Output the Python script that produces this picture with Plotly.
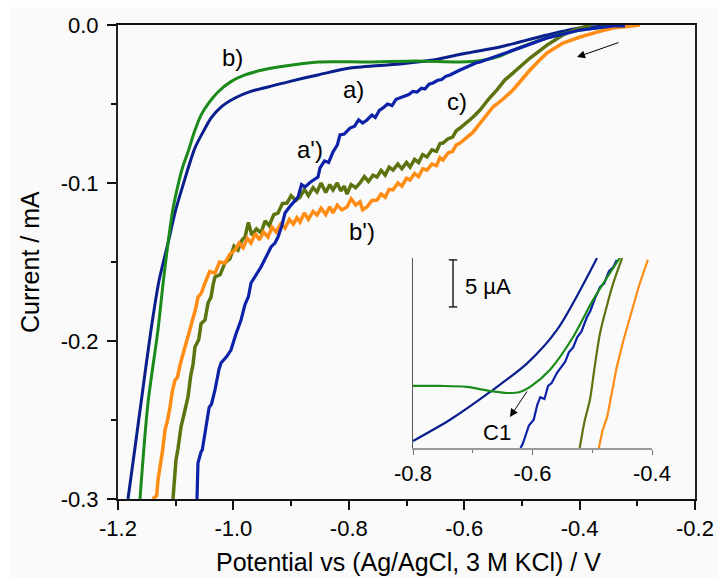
import plotly.graph_objects as go

# ---------------- data (main plot: potential V, current mA) ----------------
a_V = [-1.1827, -1.1700, -1.1601, -1.1428, -1.1290, -1.1133, -1.1000, -1.0873, -1.0666,
       -1.0500, -1.0388, -1.0200, -0.9972, -0.9700, -0.9400, -0.9000, -0.8534, -0.7979,
       -0.7113, -0.6541, -0.5951, -0.5380, -0.4565, -0.3993, -0.3421]
a_I = [-0.300, -0.2660, -0.2392, -0.193, -0.1620, -0.138, -0.1170, -0.1013, -0.0778,
       -0.0660, -0.0589, -0.0515, -0.0462, -0.0420, -0.0392, -0.0355, -0.0316, -0.0272,
       -0.0247, -0.0222, -0.0177, -0.0139, -0.0063, -0.0019, -0.0006]

b_V = [-1.1619, -1.1480, -1.1307, -1.1220, -1.1133, -1.1050, -1.0960, -1.0880, -1.0787,
       -1.0680, -1.0561, -1.0420, -1.0267, -1.0050, -0.9800, -0.9500, -0.9227, -0.8534,
       -0.7684, -0.6818, -0.6073, -0.5700, -0.5380, -0.5154, -0.4565, -0.3993, -0.3421,
       -0.3248]
b_I = [-0.300, -0.2392, -0.193, -0.1640, -0.138, -0.1170, -0.1013, -0.0900, -0.0804,
       -0.0680, -0.057, -0.0490, -0.0424, -0.0360, -0.0316, -0.0285, -0.0266, -0.0234,
       -0.0234, -0.0228, -0.0234, -0.0225, -0.0196, -0.0160, -0.0082, -0.0032, -0.0006,
       0.0]

a2_V = [-1.0631, -1.0625, -1.0614, -1.0560, -1.0540, -1.0492, -1.0420, -1.0380, -1.0319,
        -1.0250, -1.0215, -1.0120, -1.0042, -0.9960, -0.9868, -0.9800, -0.9740, -0.9695,
        -0.9600, -0.9522, -0.9450, -0.9348, -0.9280, -0.9227, -0.9160, -0.9106, -0.9000,
        -0.8880, -0.8820, -0.8759, -0.8650, -0.8534, -0.8499, -0.8420, -0.8350, -0.8274,
        -0.8200, -0.8153, -0.8080, -0.7979, -0.7900, -0.7830, -0.7760, -0.7685, -0.7600,
        -0.7540, -0.7470, -0.7407, -0.7330, -0.7250, -0.7180, -0.7113, -0.7040, -0.6960,
        -0.6890, -0.6818, -0.6740, -0.6680, -0.6610, -0.6541, -0.6460, -0.6390, -0.6320,
        -0.6246, -0.6100, -0.5950, -0.5800, -0.5726, -0.5550, -0.5380, -0.5000, -0.4565,
        -0.3993, -0.3421, -0.3213]
a2_I = [-0.300, -0.290, -0.2772, -0.2700, -0.2690, -0.2582, -0.2420, -0.2400, -0.2310,
        -0.2180, -0.2139, -0.2100, -0.2057, -0.1960, -0.1867, -0.1770, -0.1720, -0.1633,
        -0.1580, -0.1532, -0.1480, -0.1405, -0.1380, -0.1342, -0.1270, -0.1190, -0.1140,
        -0.1089, -0.1010, -0.1025, -0.0990, -0.0962, -0.0905, -0.0860, -0.0870, -0.0804,
        -0.0760, -0.0696, -0.0690, -0.0652, -0.0640, -0.0600, -0.0620, -0.0601, -0.0570,
        -0.0585, -0.0540, -0.0525, -0.0500, -0.0510, -0.0470, -0.0462, -0.0450, -0.0440,
        -0.0420, -0.0424, -0.0400, -0.0405, -0.0375, -0.0367, -0.0350, -0.0345, -0.0325,
        -0.0316, -0.0290, -0.0265, -0.0240, -0.0234, -0.0210, -0.0190, -0.0140, -0.0082,
        -0.0032, -0.0006, -0.0006]

b2_V = [-1.1400, -1.1330, -1.1307, -1.1255, -1.1230, -1.1185, -1.1140, -1.1099, -1.1060,
        -1.1012, -1.0970, -1.0925, -1.0880, -1.0839, -1.0770, -1.0700, -1.0650, -1.0614,
        -1.0560, -1.0492, -1.0410, -1.0319, -1.0240, -1.0146, -1.0060, -0.9972, -0.9900,
        -0.9830, -0.9760, -0.9695, -0.9620, -0.9550, -0.9480, -0.9400, -0.9330, -0.9260,
        -0.9180, -0.9106, -0.9030, -0.8960, -0.8900, -0.8846, -0.8770, -0.8700, -0.8620,
        -0.8551, -0.8480, -0.8400, -0.8330, -0.8274, -0.8200, -0.8120, -0.8031, -0.7960,
        -0.7880, -0.7806, -0.7760, -0.7685, -0.7600, -0.7511, -0.7440, -0.7370, -0.7300,
        -0.7234, -0.7150, -0.7080, -0.7000, -0.6939, -0.6860, -0.6790, -0.6720, -0.6645,
        -0.6560, -0.6480, -0.6420, -0.6367, -0.6280, -0.6200, -0.6140, -0.6073, -0.5980,
        -0.5900, -0.5850, -0.5778, -0.5650, -0.5501, -0.5330, -0.5154, -0.5000, -0.4860,
        -0.4700, -0.4565, -0.4288, -0.3993, -0.3700, -0.3421, -0.2953]
b2_I = [-0.300, -0.298, -0.288, -0.2772, -0.2700, -0.2563, -0.2500, -0.2418, -0.2320,
        -0.2247, -0.2230, -0.2152, -0.2100, -0.2038, -0.1950, -0.1867, -0.1790, -0.1722,
        -0.1700, -0.1633, -0.1560, -0.1570, -0.1500, -0.1506, -0.1450, -0.1424, -0.1380,
        -0.1410, -0.1350, -0.1380, -0.1320, -0.1360, -0.1310, -0.1342, -0.1280, -0.1310,
        -0.1260, -0.1285, -0.1230, -0.1260, -0.1220, -0.1247, -0.1190, -0.1230, -0.1180,
        -0.1203, -0.1160, -0.1200, -0.1150, -0.1190, -0.1140, -0.1170, -0.1152, -0.1100,
        -0.1140, -0.1120, -0.1170, -0.1152, -0.1110, -0.1108, -0.1070, -0.1090, -0.1040,
        -0.1044, -0.1000, -0.1020, -0.0970, -0.0981, -0.0940, -0.0960, -0.0910, -0.0918,
        -0.0880, -0.0890, -0.0840, -0.0854, -0.0810, -0.0800, -0.0760, -0.0747, -0.0720,
        -0.0690, -0.0680, -0.0646, -0.0590, -0.0519, -0.0470, -0.0411, -0.0345, -0.0285,
        -0.0225, -0.0177, -0.0114, -0.0076, -0.0045, -0.0019, 0.0]

c_V = [-1.1047, -1.1020, -1.0995, -1.0960, -1.0908, -1.0860, -1.0787, -1.0740, -1.0700,
       -1.0666, -1.0600, -1.0560, -1.0492, -1.0440, -1.0388, -1.0350, -1.0319, -1.0230,
       -1.0146, -1.0060, -0.9990, -0.9920, -0.9850, -0.9799, -0.9740, -0.9680, -0.9600,
       -0.9522, -0.9450, -0.9380, -0.9300, -0.9227, -0.9150, -0.9071, -0.9000, -0.8920,
       -0.8846, -0.8770, -0.8700, -0.8620, -0.8551, -0.8480, -0.8400, -0.8330, -0.8274,
       -0.8200, -0.8140, -0.8080, -0.8031, -0.7960, -0.7880, -0.7806, -0.7730, -0.7660,
       -0.7580, -0.7511, -0.7440, -0.7370, -0.7300, -0.7234, -0.7150, -0.7080, -0.7000,
       -0.6939, -0.6860, -0.6790, -0.6720, -0.6645, -0.6560, -0.6480, -0.6420, -0.6367,
       -0.6280, -0.6200, -0.6140, -0.6073, -0.5980, -0.5900, -0.5810, -0.5726, -0.5580,
       -0.5432, -0.5300, -0.5154, -0.5000, -0.4860, -0.4700, -0.4565, -0.4288, -0.4080,
       -0.3872, -0.3800]
c_I = [-0.300, -0.288, -0.2753, -0.2680, -0.2544, -0.2470, -0.2354, -0.2220, -0.2150,
       -0.2038, -0.1990, -0.1890, -0.1867, -0.1760, -0.1722, -0.1640, -0.1595, -0.1580,
       -0.1506, -0.1480, -0.1400, -0.1424, -0.1360, -0.1342, -0.1250, -0.1330, -0.1290,
       -0.1316, -0.1240, -0.1270, -0.1200, -0.1190, -0.1130, -0.1127, -0.1080, -0.1110,
       -0.1089, -0.1040, -0.1080, -0.1030, -0.1057, -0.1000, -0.1060, -0.1010, -0.1044,
       -0.1000, -0.1050, -0.1020, -0.1070, -0.1010, -0.1030, -0.1000, -0.0960, -0.0990,
       -0.0950, -0.0962, -0.0920, -0.0950, -0.0900, -0.0918, -0.0880, -0.0910, -0.0870,
       -0.0899, -0.0850, -0.0870, -0.0820, -0.0835, -0.0790, -0.0800, -0.0750, -0.0747,
       -0.0720, -0.0710, -0.0670, -0.0652, -0.0620, -0.0600, -0.0570, -0.0538, -0.0470,
       -0.0411, -0.0350, -0.0304, -0.0250, -0.0209, -0.0165, -0.0127, -0.0063, -0.0030,
       -0.0006, 0.0]

# ---------------- inset data (potential V, current in µA, offset) ----------------
ins_a_V = [-0.800, -0.738, -0.671, -0.609, -0.559, -0.492]
ins_a_I = [0.74, 3.0, 5.96, 9.0, 12.55, 20.2]
ins_b_V = [-0.800, -0.755, -0.710, -0.671, -0.643, -0.621, -0.604, -0.571, -0.532, -0.499, -0.454]
ins_b_I = [6.6, 6.6, 6.5, 6.06, 5.85, 5.96, 6.5, 8.3, 11.8, 15.7, 20.2]
ins_a2_V = [-0.620, -0.616, -0.606, -0.598, -0.592, -0.587, -0.580, -0.574, -0.568, -0.559,
            -0.552, -0.545, -0.539, -0.532, -0.525, -0.518, -0.509, -0.503, -0.496, -0.487,
            -0.480, -0.472, -0.465, -0.459]
ins_a2_I = [0.0, 0.5, 2.4, 3.0, 4.6, 5.4, 5.2, 6.6, 6.9, 8.0, 8.6, 9.2, 10.2, 10.7, 11.8, 12.4,
            13.9, 14.6, 15.8, 17.1, 17.5, 18.8, 19.2, 20.0]
ins_c_V = [-0.521, -0.513, -0.504, -0.496, -0.487, -0.476, -0.465, -0.450]
ins_c_I = [0.0, 2.8, 5.1, 8.6, 12.2, 15.0, 17.5, 20.2]
ins_b2_V = [-0.489, -0.483, -0.475, -0.467, -0.459, -0.448, -0.437, -0.422, -0.407]
ins_b2_I = [0.0, 1.8, 3.3, 5.9, 8.6, 11.4, 13.9, 17.2, 20.0]

x_tick_vals = [-1.2, -1.0, -0.8, -0.6, -0.4, -0.2]
x_tick_text = ["-1.2", "-1.0", "-0.8", "-0.6", "-0.4", "-0.2"]
y_tick_vals = [0.0, -0.1, -0.2, -0.3]
y_tick_text = ["0.0", "-0.1", "-0.2", "-0.3"]
ins_x_tick_vals = [-0.8, -0.6, -0.4]
ins_x_tick_text = ["-0.8", "-0.6", "-0.4"]

NAVY = "#0a1e8c"
BLUE = "#0d22a8"
GREEN = "#1a8a1a"
OLIVE = "#5b7410"
ORANGE = "#ff8c14"
FONT = "Arial, Liberation Sans, sans-serif"

fig = go.Figure()

main_traces = [
    (a_V, a_I, NAVY, 3.0, "spline"),
    (b_V, b_I, GREEN, 3.0, "spline"),
    (c_V, c_I, OLIVE, 3.5, "linear"),
    (b2_V, b2_I, ORANGE, 3.5, "linear"),
    (a2_V, a2_I, BLUE, 3.2, "linear"),
]
for xv, yv, col, w, shp in main_traces:
    fig.add_trace(go.Scatter(x=xv, y=yv, mode="lines",
                             line=dict(color=col, width=w, shape=shp, smoothing=0.8),
                             showlegend=False, xaxis="x", yaxis="y"))

inset_traces = [
    (ins_a_V, ins_a_I, NAVY, "spline"),
    (ins_c_V, ins_c_I, OLIVE, "spline"),
    (ins_b2_V, ins_b2_I, ORANGE, "linear"),
    (ins_a2_V, ins_a2_I, BLUE, "linear"),
    (ins_b_V, ins_b_I, GREEN, "spline"),
]
for xv, yv, col, shp in inset_traces:
    fig.add_trace(go.Scatter(x=xv, y=yv, mode="lines",
                             line=dict(color=col, width=2.2, shape=shp, smoothing=0.8),
                             showlegend=False, xaxis="x2", yaxis="y2"))

W, H = 717, 578
L, R, T, B = 118, 22, 25, 79
pw, ph = W - L - R, H - T - B

def px_x(p):
    return (p - L) / pw

def px_y(p):
    return (H - B - p) / ph

fig.update_layout(
    width=W, height=H,
    margin=dict(l=L, r=R, t=T, b=B, pad=0, autoexpand=False),
    paper_bgcolor="white",
    plot_bgcolor="rgba(0,0,0,0)",
    font=dict(family=FONT, color="black"),
    xaxis=dict(
        range=[-1.2, -0.2], domain=[0, 1], automargin=False,
        tickvals=x_tick_vals, ticktext=x_tick_text,
        ticks="outside", ticklen=9, tickwidth=1.5, tickcolor="#111",
        minor=dict(dtick=0.1, tick0=-1.2, ticks="outside", ticklen=5, tickwidth=1.5, tickcolor="#111", showgrid=False),
        showline=True, linecolor="#111", linewidth=2, mirror=True,
        showgrid=False, zeroline=False,
        tickfont=dict(size=22),
    ),
    yaxis=dict(
        range=[-0.3, 0.0], domain=[0, 1], automargin=False,
        tickvals=y_tick_vals, ticktext=y_tick_text,
        ticks="outside", ticklen=9, tickwidth=1.5, tickcolor="#111",
        minor=dict(dtick=0.05, tick0=0, ticks="outside", ticklen=5, tickwidth=1.5, tickcolor="#111", showgrid=False),
        showline=True, linecolor="#222", linewidth=2, mirror=True,
        showgrid=False, zeroline=False,
        tickfont=dict(size=22), ticklabelstandoff=4,
    ),
    xaxis2=dict(
        range=[-0.8, -0.4], domain=[px_x(413), px_x(652)], anchor="y2",
        tickvals=ins_x_tick_vals, ticktext=ins_x_tick_text,
        ticks="outside", ticklen=5, tickwidth=1, tickcolor="#777",
        minor=dict(dtick=0.1, tick0=-0.8, ticks="outside", ticklen=3, tickwidth=1, tickcolor="#777", showgrid=False),
        showline=True, linecolor="#999", linewidth=2,
        showgrid=False, zeroline=False,
        tickfont=dict(size=22),
    ),
    yaxis2=dict(
        range=[0, 20.2], domain=[px_y(448), px_y(258)], anchor="x2",
        showline=True, linecolor="#555", linewidth=1,
        showticklabels=False, ticks="",
        showgrid=False, zeroline=False,
    ),
    showlegend=False,
)

shapes = [
    dict(type="rect", xref="paper", yref="paper", x0=px_x(10), x1=px_x(W + 5), y0=px_y(H + 5), y1=px_y(7),
         fillcolor="#fafafa", line=dict(width=0), layer="below"),
    # scale bar 5 µA in inset
    dict(type="line", xref="x2", yref="y2", x0=-0.733, x1=-0.733, y0=15.0, y1=20.0, line=dict(color="#222", width=1.5)),
    dict(type="line", xref="x2", yref="y2", x0=-0.740, x1=-0.726, y0=20.0, y1=20.0, line=dict(color="#222", width=1.5)),
    dict(type="line", xref="x2", yref="y2", x0=-0.740, x1=-0.726, y0=15.0, y1=15.0, line=dict(color="#222", width=1.5)),
]
fig.update_layout(shapes=shapes)

labels = [
    ("b)", -1.0024, -0.0203),
    ("a)", -0.7927, -0.0411),
    ("a')", -0.8672, -0.0791),
    ("c)", -0.6125, -0.0487),
    ("b')", -0.7771, -0.1310),
]
ann = []
for t, x, y in labels:
    ann.append(dict(text=t, x=x, y=y, xref="x", yref="y", showarrow=False,
                    font=dict(size=24, family=FONT, color="black")))
# axis titles
ann.append(dict(text="Potential vs (Ag/AgCl, 3 M KCl) / V", x=px_x(408), y=px_y(562),
                xref="paper", yref="paper", showarrow=False, xanchor="center", yanchor="middle",
                font=dict(size=25, family=FONT, color="black")))
ann.append(dict(text="Current / mA", x=px_x(30), y=px_y(262), textangle=-90,
                xref="paper", yref="paper", showarrow=False, xanchor="center", yanchor="middle",
                font=dict(size=25, family=FONT, color="black")))
# sweep direction arrow
ann.append(dict(x=-0.4045, y=-0.0203, ax=-0.330, ay=-0.0108, xref="x", yref="y", axref="x", ayref="y",
                showarrow=True, arrowhead=2, arrowsize=1.6, arrowwidth=1, arrowcolor="black", text=""))
# inset C1 arrow + label
ann.append(dict(x=-0.6377, y=3.30, ax=-0.6075, ay=6.17, xref="x2", yref="y2", axref="x2", ayref="y2",
                showarrow=True, arrowhead=2, arrowsize=1.6, arrowwidth=1, arrowcolor="black", text=""))
ann.append(dict(text="C1", x=-0.6594, y=1.6, xref="x2", yref="y2", showarrow=False,
                font=dict(size=22, family=FONT, color="black")))
ann.append(dict(text="5 µA", x=-0.716, y=17.2, xref="x2", yref="y2", showarrow=False, xanchor="left",
                font=dict(size=22, family=FONT, color="black")))
fig.update_layout(annotations=ann)

fig.write_html("out.html", config={"displayModeBar": False},
               post_script="document.body.style.margin='0px';")
